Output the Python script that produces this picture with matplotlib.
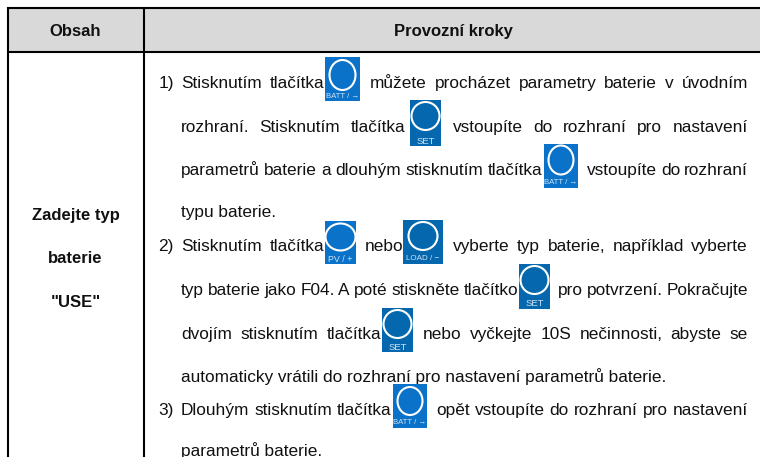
import matplotlib
matplotlib.use("Agg")
import matplotlib.pyplot as plt
from matplotlib.patches import Rectangle, Ellipse

plt.rcParams['font.family'] = ['Liberation Sans', 'DejaVu Sans']

headers = ["Obsah", "Provozní kroky"]
left_cell = ["Zadejte typ", "baterie", '"USE"']
left_y = [220, 263, 307]
numbers = [("1)", 88), ("2)", 251), ("3)", 415)]
# (text, x start, x end or None, baseline y)
segments = [
    ("Stisknutím tlačítka", 181, 324, 88),
    ("můžete procházet parametry baterie v úvodním", 370, 748, 88),
    ("rozhraní. Stisknutím tlačítka", 181, 405, 132),
    ("vstoupíte do rozhraní pro nastavení", 453, 748, 132),
    ("parametrů baterie a dlouhým stisknutím tlačítka", 181, 542, 175),
    ("vstoupíte do rozhraní", 587, 748, 175),
    ("typu baterie.", 181, None, 217),
    ("Stisknutím tlačítka", 181, 324, 251),
    ("nebo", 365, 403, 251),
    ("vyberte typ baterie, například vyberte", 453, 748, 251),
    ("typ baterie jako F04. A poté stiskněte tlačítko", 181, 518, 295),
    ("pro potvrzení. Pokračujte", 558, 748, 295),
    ("dvojím stisknutím tlačítka", 181, 381, 339),
    ("nebo vyčkejte 10S nečinnosti, abyste se", 423, 748, 339),
    ("automaticky vrátili do rozhraní pro nastavení parametrů baterie.", 181, None, 382),
    ("Dlouhým stisknutím tlačítka", 181, 391, 415),
    ("opět vstoupíte do rozhraní pro nastavení", 436, 748, 415),
    ("parametrů baterie.", 181, None, 456),
]
BRIGHT = "#0A72C8"
DEEP = "#0568AE"
LABEL_SIZE = {"SET": 6.8, "PV / +": 6.4, "BATT / →": 5.6, "LOAD / −": 5.8}
# (x0, y0, x1, y1, ring width, ring height, ring centre below top, label, colour)
icons = [
    (325, 57, 360, 101, 26, 30, 18, "BATT / →", BRIGHT),
    (410, 100, 441, 146, 28, 28, 16, "SET", DEEP),
    (544, 144, 578, 188, 25, 29, 16, "BATT / →", BRIGHT),
    (325, 221, 356, 264, 30, 27, 16, "PV / +", BRIGHT),
    (403, 220, 443, 264, 29, 28, 16, "LOAD / −", DEEP),
    (519, 264, 550, 309, 28, 28, 16, "SET", DEEP),
    (382, 308, 413, 352, 28, 28, 16, "SET", DEEP),
    (393, 384, 427, 428, 25, 28, 17, "BATT / →", BRIGHT),
]

FS = 12.4
FSB = 12.0
INK = "#111111"

fig = plt.figure(figsize=(7.6, 4.57), dpi=100)
ax = fig.add_axes([0, 0, 1, 1])
ax.set_xlim(0, 760)
ax.set_ylim(457, 0)
ax.axis("off")

ax.add_patch(Rectangle((7, 8), 753, 44, fc="#D9D9D9", ec="none"))
lw = 1.5
for y in (8, 52):
    ax.plot([6.5, 760], [y, y], color="black", lw=lw, solid_capstyle="butt")
for x in (7.5, 144):
    ax.plot([x, x], [7, 457], color="black", lw=lw, solid_capstyle="butt")

ax.text(75.5, 36, headers[0], ha="center", va="baseline", fontsize=FSB, fontweight="bold", color=INK)
ax.text(453, 36, headers[1], ha="center", va="baseline", fontsize=FSB, fontweight="bold", color=INK)
for s, y in zip(left_cell, left_y):
    ax.text(75.5, y, s, ha="center", va="baseline", fontsize=FSB, fontweight="bold", color=INK)
for s, y in numbers:
    ax.text(158.5, y, s, ha="left", va="baseline", fontsize=FS, color=INK)

fig.canvas.draw()
r = fig.canvas.get_renderer()
for text, x0, x1, y in segments:
    if x1 is None:
        ax.text(x0, y, text, ha="left", va="baseline", fontsize=FS, color=INK)
        continue
    words = text.split(" ")
    arts = [ax.text(x0, y, w, ha="left", va="baseline", fontsize=FS, color=INK) for w in words]
    ws = [a.get_window_extent(r).width for a in arts]
    gap = (x1 - x0 - sum(ws)) / max(len(words) - 1, 1)
    x = x0
    for a, w in zip(arts, ws):
        a.set_x(x)
        x += w + gap

for x0, y0, x1, y1, rw, rh, dy, label, col in icons:
    ax.add_patch(Rectangle((x0, y0), x1 - x0, y1 - y0, fc=col, ec="none", zorder=3))
    cx = (x0 + x1) / 2
    ax.add_patch(Ellipse((cx, y0 + dy), rw, rh, fc="none", ec="white", lw=1.5, zorder=4))
    ax.text(cx, y1 - 5, label, ha="center", va="center", fontsize=LABEL_SIZE[label],
            color="#CFE3F4", zorder=5)

fig.savefig("out.png", dpi=100)
